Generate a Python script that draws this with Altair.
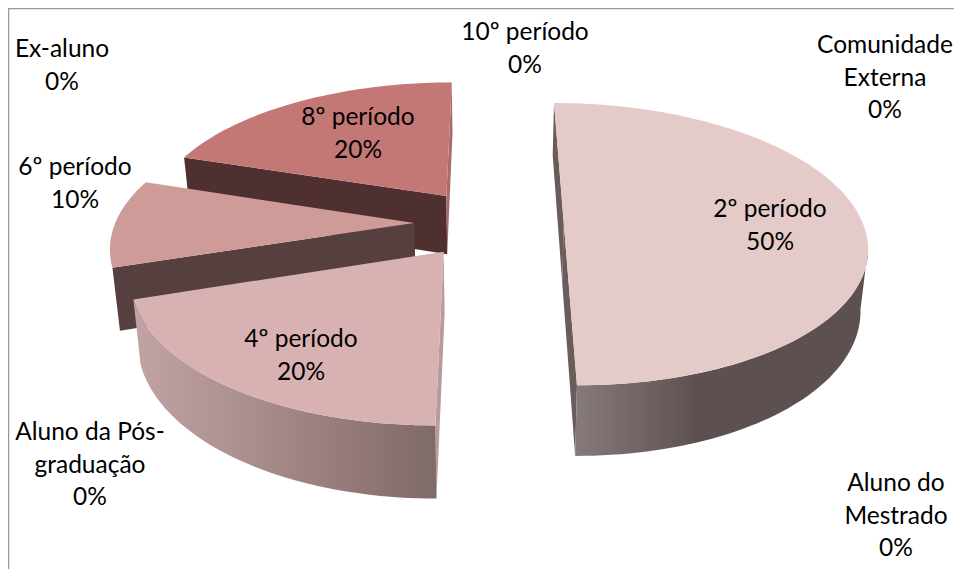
import math
import altair as alt

# ---- chart values ----
LABELS = ["2º período", "4º período", "6º período", "8º período", "10º período",
          "Ex-aluno", "Aluno da Pós-\ngraduação", "Aluno do\nMestrado", "Comunidade\nExterna"]
SHARES = [50, 20, 10, 20, 0, 0, 0, 0, 0]

# ---- styling / layout ----
TOP = {"2º período": "#E5CACA", "4º período": "#D8B2B2", "6º período": "#CF9B99", "8º período": "#C47876"}
CUT0 = {"2º período": "#6B5C5C", "4º período": "#B99B9B", "6º período": "#563F3F", "8º período": "#4F3031"}
CUT1 = {"2º período": "#6B5C5C", "8º período": "#A86C6C"}
WALL = {
    "2º período": [(0, "#877A7A"), (0.15, "#786B6B"), (0.42, "#5D5050"), (1, "#5D5050")],
    "4º período": [(0, "#C2A3A3"), (0.45, "#A68A8A"), (0.75, "#937777"), (1, "#7E6A6A")],
}
# centre x and centre y of the first line of each label
LABEL_POS = {
    "2º período": (770, 210), "4º período": (301, 340), "6º período": (75, 168), "8º período": (358, 118),
    "10º período": (525, 33), "Ex-aluno": (62, 50), "Aluno da Pós-\ngraduação": (90, 433),
    "Aluno do\nMestrado": (896, 484), "Comunidade\nExterna": (885, 46),
}
PAGE = 8
X0, Y0, R, S, K = 489, 223, 299, 138, 0.15
EXPLODE, DEPTH, CONVERGE = 0.25, 60, 0.98
WALL_FROM = 100  # angle where the rim turns away from the viewer


def top_pt(u, v):
    w = 1 + K * v
    return (X0 + R * u / w - PAGE, Y0 - S * v / w - PAGE)


def low_pt(u, v):
    w = 1 + K * v
    return (X0 + CONVERGE * R * u / w - PAGE, Y0 - S * v / w + DEPTH / w - PAGE)


def rim(a, b, t0, t1, fn):
    n = max(2, int((t1 - t0) / 1.5))
    pts = []
    for i in range(n + 1):
        t = math.radians(t0 + (t1 - t0) * i / n)
        pts.append(fn(a + math.sin(t), b + math.cos(t)))
    return pts


def shape(pts, fill):
    ring = [list(p) for p in pts] + [list(pts[0])]
    feature = {"type": "Feature", "properties": {},
               "geometry": {"type": "Polygon", "coordinates": [ring]}}
    return (alt.Chart(alt.Data(values=[feature]))
            .mark_geoshape(fill=fill, filled=True, strokeWidth=0)
            .project(type="identity", scale=1, translate=[0, 0]))


wedges = []
start = 0.0
for name, share in zip(LABELS, SHARES):
    sweep = share * 3.6
    if share > 0:
        wedges.append((name, start, start + sweep))
    start += sweep

layers = []
for name, t0, t1 in reversed(wedges):
    mid = math.radians((t0 + t1) / 2)
    a, b = EXPLODE * math.sin(mid), EXPLODE * math.cos(mid)
    if name in CUT0:
        tr = math.radians(t0)
        e = (a + math.sin(tr), b + math.cos(tr))
        layers.append(shape([top_pt(*e), top_pt(a, b), low_pt(a, b), low_pt(*e)], CUT0[name]))
    if name in CUT1:
        tr = math.radians(t1)
        e = (a + math.sin(tr), b + math.cos(tr))
        layers.append(shape([top_pt(*e), top_pt(a, b), low_pt(a, b), low_pt(*e)], CUT1[name]))
    if name in WALL:
        s0, s1 = max(t0, WALL_FROM), t1
        pts = rim(a, b, s0, s1, top_pt) + rim(a, b, s0, s1, low_pt)[::-1]
        grad = alt.Gradient(
            gradient="linear", x1=0, x2=1, y1=0, y2=0,
            stops=[alt.GradientStop(offset=o, color=c) for o, c in WALL[name]],
        )
        layers.append(shape(pts, grad))
    layers.append(shape([top_pt(a, b)] + rim(a, b, t0, t1, top_pt), TOP[name]))

text_rows = [
    {"label": f"{n}\n{s}%", "x": LABEL_POS[n][0] - PAGE, "y": LABEL_POS[n][1] - PAGE}
    for n, s in zip(LABELS, SHARES)
]
labels = (alt.Chart(alt.Data(values=text_rows))
          .mark_text(font="Lato", fontSize=24.5, color="#000000", lineBreak="\n", lineHeight=32.5,
                     align="center", baseline="middle")
          .encode(x=alt.X("x:Q", scale=None), y=alt.Y("y:Q", scale=None), text="label:N"))

frame_top = alt.Chart(alt.Data(values=[{"a": 0}])).mark_rule(color="#999999", strokeWidth=1.5).encode(
    x=alt.value(0), x2=alt.value(946), y=alt.value(0.5))
frame_left = alt.Chart(alt.Data(values=[{"a": 0}])).mark_rule(color="#999999", strokeWidth=1.5).encode(
    x=alt.value(0.5), y=alt.value(0), y2=alt.value(561))

chart = (alt.layer(frame_top, frame_left, *layers, labels)
         .properties(width=946, height=561, padding=0, background="white",
                     autosize=alt.AutoSizeParams(type="none"))
         .configure_view(strokeWidth=0))
chart.save("out.html", embed_options={"renderer": "svg", "actions": False})
